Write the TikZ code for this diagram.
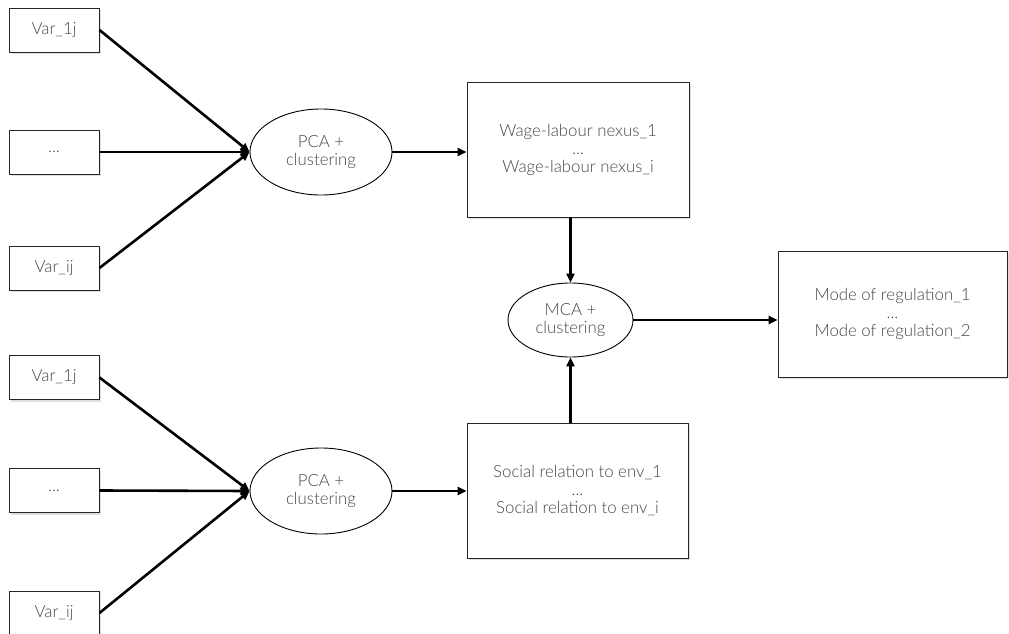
\documentclass[tikz,border=0pt]{standalone}
\usepackage{fontspec}
\setmainfont{Lato}[UprightFont=* Light]
\usetikzlibrary{shapes.geometric,shadows,arrows.meta}
\begin{document}
\begin{tikzpicture}[x=1pt,y=-1pt,
 txt/.style={text=black!72, font=\fontsize{16.8}{18}\selectfont, align=center, inner sep=0pt},
 box/.style={txt, rectangle, draw=black!85, line width=0.9pt, fill=white,
   drop shadow={opacity=0.25, shadow xshift=2pt, shadow yshift=-2pt}},
 ell/.style={txt, ellipse, draw=black, line width=0.9pt, fill=white},
 conn/.style={-{Triangle[length=9pt,width=8pt]}, line width=2.6pt, black}]
\useasboundingbox (0,0) rectangle (1009,634);
% upper group
\node[box, minimum width=90pt, minimum height=44pt] (a1) at (54,30) {Var\_1j};
\node[box, minimum width=90pt, minimum height=44pt] (a2) at (54,152) {...};
\node[box, minimum width=90pt, minimum height=44pt] (a3) at (54,268) {Var\_ij};
\node[ell, minimum width=142pt, minimum height=86pt] (p1) at (321,152) {PCA +\\clustering};
\node[box, minimum width=222pt, minimum height=135pt] (w) at (578,149.5) {Wage-labour nexus\_1\\...\\Wage-labour nexus\_i};
% lower group
\node[box, minimum width=90pt, minimum height=44pt] (b1) at (54,377.5) {Var\_1j};
\node[box, minimum width=90pt, minimum height=44pt] (b2) at (54,490.5) {...};
\node[box, minimum width=90pt, minimum height=44pt] (b3) at (54,613) {Var\_ij};
\node[ell, minimum width=142pt, minimum height=86pt] (p2) at (321,491) {PCA +\\clustering};
\node[box, minimum width=221pt, minimum height=135pt] (s) at (577.5,490.5) {Social relation to env\_1\\...\\Social relation to env\_i};
% middle
\node[ell, minimum width=125pt, minimum height=74pt] (m) at (570.5,320) {MCA +\\clustering};
\node[box, minimum width=229pt, minimum height=126pt] (r) at (892.5,314) {Mode of regulation\_1\\...\\Mode of regulation\_2};
% connectors
\draw[conn] (a1.east) -- (p1.west);
\draw[conn] (a2.east) -- (p1.west);
\draw[conn] (a3.east) -- (p1.west);
\draw[conn] (p1.east) -- (w.west |- p1.east);
\draw[conn] (b1.east) -- (p2.west);
\draw[conn] (b2.east) -- (p2.west);
\draw[conn] (b3.east) -- (p2.west);
\draw[conn] (p2.east) -- (s.west |- p2.east);
\draw[conn] (w.south -| m.north) -- (m.north);
\draw[conn] (s.north -| m.south) -- (m.south);
\draw[conn] (m.east) -- (r.west |- m.east);
\end{tikzpicture}
\end{document}
